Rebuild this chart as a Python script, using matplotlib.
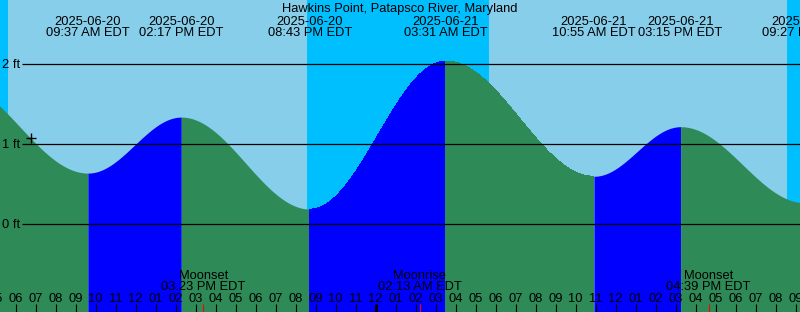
import numpy as np
import matplotlib
matplotlib.use("Agg")
import matplotlib.pyplot as plt
from matplotlib.transforms import blended_transform_factory
from datetime import datetime

# ---------------- data ----------------
title = "Hawkins Point, Patapsco River, Maryland"

tide_dates = ["2025-06-20", "2025-06-20", "2025-06-20", "2025-06-21",
              "2025-06-21", "2025-06-21", "2025-06-21"]
tide_times = ["09:37 AM EDT", "02:17 PM EDT", "08:43 PM EDT", "03:31 AM EDT",
              "10:55 AM EDT", "03:15 PM EDT", "09:27 PM EDT"]
tide_heights = [0.64, 1.34, 0.19, 2.04, 0.60, 1.22, 0.27]

# extremes just outside the visible window (estimated)
prev_event = ("2025-06-20", "02:48 AM EDT", 1.80)
next_event = ("2025-06-22", "04:15 AM EDT", 2.00)

# sunrise / sunset (read from the day/night shading)
sun_events = [("2025-06-20", "05:38 AM EDT", "rise"),
              ("2025-06-20", "08:33 PM EDT", "set"),
              ("2025-06-21", "05:40 AM EDT", "rise"),
              ("2025-06-21", "08:35 PM EDT", "set")]

moon_names = ["Moonset", "Moonrise", "Moonset"]
moon_dates = ["2025-06-20", "2025-06-21", "2025-06-21"]
moon_times = ["03:23 PM EDT", "02:13 AM EDT", "04:39 PM EDT"]

level_ticks = [0, 1, 2]
level_labels = ["0 ft", "1 ft", "2 ft"]

mark_time = ("2025-06-20", "06:45 AM EDT")   # "+" marker

# ---------------- helpers ----------------
BASE = datetime(2025, 6, 20)


def hours(d, t):
    dt = datetime.strptime(d + " " + t.replace(" EDT", ""), "%Y-%m-%d %I:%M %p")
    return (dt - BASE).total_seconds() / 3600.0


ev_t = [hours(prev_event[0], prev_event[1])] + \
       [hours(d, t) for d, t in zip(tide_dates, tide_times)] + \
       [hours(next_event[0], next_event[1])]
ev_h = [prev_event[2]] + tide_heights + [next_event[2]]


def tide_at(t):
    t = np.asarray(t, dtype=float)
    out = np.zeros_like(t)
    for i in range(len(ev_t) - 1):
        a, b = ev_t[i], ev_t[i + 1]
        m = (t >= a) & (t <= b)
        f = (1 + np.cos(np.pi * (t[m] - a) / (b - a))) / 2
        out[m] = ev_h[i + 1] + (ev_h[i] - ev_h[i + 1]) * f
    return out


# ---------------- layout ----------------
W, H = 800, 312
PX_PER_HOUR = 20.0
PX_PER_FT = 80.0
ZERO_PX = 224.3
t0 = 5.22
t1 = t0 + W / PX_PER_HOUR
y_top = ZERO_PX / PX_PER_FT
y_bot = -(H - ZERO_PX) / PX_PER_FT

DAY = "#87CEEB"
NIGHT = "#00BFFF"
FLOOD = "#0000FF"
EBB = "#2E8B57"

FONT = ["Liberation Sans", "DejaVu Sans"]
FS = 9.3

fig = plt.figure(figsize=(W / 100, H / 100), dpi=100)
ax = fig.add_axes([0, 0, 1, 1])
ax.set_xlim(t0, t1)
ax.set_ylim(y_bot, y_top)
ax.axis("off")

blend = blended_transform_factory(ax.transData, ax.transAxes)


def fy(px):
    return 1 - px / H


# background: day / night
ax.axvspan(t0 - 1, t1 + 1, color=DAY, zorder=0, lw=0)
sun_t = [hours(d, t) for d, t, _ in sun_events]
kinds = [k for _, _, k in sun_events]
edges = [t0 - 1] + sun_t + [t1 + 1]
state = "night" if kinds[0] == "rise" else "day"
for i in range(len(edges) - 1):
    if state == "night":
        ax.axvspan(edges[i], edges[i + 1], color=NIGHT, zorder=0, lw=0)
    state = "day" if state == "night" else "night"

# tide fill
for i in range(len(ev_t) - 1):
    a, b = ev_t[i], ev_t[i + 1]
    tt = np.linspace(a, b, 600)
    hh = tide_at(tt)
    col = FLOOD if ev_h[i + 1] > ev_h[i] else EBB
    ax.fill_between(tt, hh, y_bot - 1, color=col, lw=0, zorder=1,
                    antialiased=False)

# level lines
x_line0 = t0 + 22 / PX_PER_HOUR
for lv, lab in zip(level_ticks, level_labels):
    ax.plot([x_line0, t1 + 1], [lv, lv], color="black", lw=0.9, zorder=2,
            solid_capstyle="butt")
    ax.text(t0 + 2 / PX_PER_HOUR, lv - 4 / PX_PER_FT, lab, family=FONT,
            fontsize=FS, ha="left", va="baseline", zorder=3)

# "+" marker
mt = hours(*mark_time)
ax.plot([mt], [tide_at([mt])[0]], marker="+", ms=7, mew=1.0, color="black",
        zorder=3)

# title
ax.text(0.5, fy(11.7), title, transform=ax.transAxes, family=FONT,
        fontsize=FS, ha="center", va="baseline", zorder=4)

# tide event labels
for d, t in zip(tide_dates, tide_times):
    x = hours(d, t)
    ax.text(x, fy(24.7), d, transform=blend, family=FONT, fontsize=FS,
            ha="center", va="baseline", zorder=4)
    ax.text(x, fy(36.3), t, transform=blend, family=FONT, fontsize=FS,
            ha="center", va="baseline", zorder=4)

# moon labels
moon_t = []
for n, d, t in zip(moon_names, moon_dates, moon_times):
    x = hours(d, t)
    moon_t.append(x)
    ax.text(x, fy(279.3), n, transform=blend, family=FONT, fontsize=FS,
            ha="center", va="baseline", zorder=4)
    ax.text(x, fy(290.0), t, transform=blend, family=FONT, fontsize=FS,
            ha="center", va="baseline", zorder=4)

# hour ticks and labels
for hr in range(int(np.floor(t0)), int(np.ceil(t1)) + 1):
    lab = "%02d" % (((hr - 1) % 12) + 1)
    ax.text(hr, fy(301.7), lab, transform=blend, family=FONT, fontsize=FS,
            ha="center", va="baseline", zorder=4)
    lw = 2.2 if hr % 24 == 0 else 0.8
    ax.plot([hr, hr], [fy(304), fy(313)], transform=blend, color="black",
            lw=lw, zorder=4, solid_capstyle="butt")

for x in moon_t:
    ax.plot([x, x], [fy(304), fy(313)], transform=blend, color="red",
            lw=0.8, zorder=5, solid_capstyle="butt")

fig.savefig("out.png", dpi=100)
